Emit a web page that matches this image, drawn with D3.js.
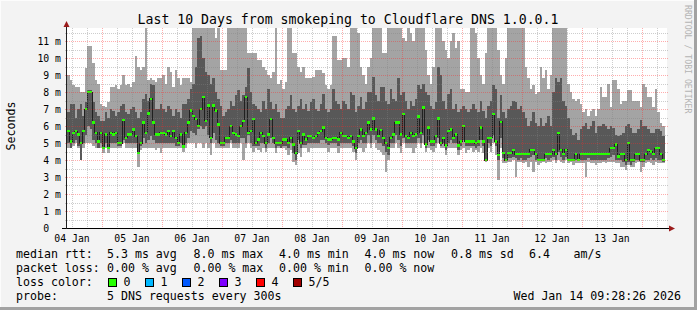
<!DOCTYPE html>
<html>
<head>
<meta charset="utf-8">
<script src="https://cdn.jsdelivr.net/npm/d3@7"></script>
<style>
  html, body { margin: 0; padding: 0; background: #f3f3f3; }
  svg { display: block; }
  text { font-family: "DejaVu Sans Mono", monospace; fill: #000; }
</style>
</head>
<body>
<div id="chart"></div>
<script>
// hourly consolidated pings (ms), one value per hour from 04 Jan 10:00
// sorted pings: min (p1), low (p2), median (p3), high (p4), max (p5)
var maxMs = [
  9.0, 8.7, 8.4, 8.3, 8.3, 8.0, 8.0, 9.4, 10.7, 10.7, 9.7, 8.7, 8.5, 7.3,
  7.2, 7.1, 7.4, 8.3, 8.3, 8.4, 8.2, 8.4, 9.0, 8.4, 8.5, 8.3, 8.6, 10.1, 9.5, 9.3, 9.5, 12.5, 8.7, 8.8, 8.7, 8.6, 8.8, 8.8,
  9.0, 8.5, 9.5, 9.2, 8.3, 9.3, 8.8, 8.4, 8.8, 8.8, 8.8, 8.6, 12, 12, 12, 12, 12, 12, 12, 12, 12, 11.2, 12, 9.3,
  9.3, 9.3, 12, 12, 12, 12, 12, 12, 12, 12, 10.3, 10.3, 10.3, 10.3, 9.9, 9.9, 9.5, 9.3, 9.0, 8.8, 9.2, 12, 8.5, 8.7,
  8.2, 8.6, 12, 12, 10.3, 10.3, 9.5, 9.2, 9.5, 8.8, 8.8, 8.8, 8.9, 9.3, 9.3, 9.3, 9.1, 8.4, 8.2, 8.4, 11.3, 11.3, 9.9, 9.9,
  10.0, 10.0, 9.5, 12, 12, 12, 11.5, 9.5, 9.0, 8.5, 9.5, 10.0, 12, 12, 12, 12, 10.3, 10.3, 12, 12, 12, 12, 12, 12,
  11.2, 11.0, 12, 11.5, 11.0, 12, 12, 12, 12, 10.5, 9.0, 8.5, 9.5, 12, 12, 12, 11.0, 10.5, 10.0, 11.0, 11.5, 10.6, 11.0, 8.2,
  8.2, 8.0, 8.0, 12, 12, 11.5, 10.0, 9.0, 8.5, 10.3, 12, 12, 12, 12, 10.5, 9.0, 8.5, 10.0, 12, 12, 12, 12, 12, 12,
  12, 9.5, 8.8, 8.2, 8.4, 7.9, 8.0, 9.5, 8.8, 9.3, 8.2, 9.0, 12, 12, 12, 12, 12, 12, 8.5, 8.0, 7.6, 7.5, 7.6, 7.3,
  6.8, 7.0, 6.6, 6.9, 7.0, 6.6, 7.0, 8.3, 7.7, 7.7, 8.5, 7.1, 8.7, 8.7, 8.2, 7.3, 7.5, 7.5, 8.1, 8.1, 7.5, 7.5, 7.5, 7.1,
  8.5, 8.3, 7.7, 7.7, 7.1, 8.2, 6.8, 6.2, 6.0
];
var highMs = [
  6.8, 7.3, 7.3, 6.5, 7.0, 7.3, 6.6, 7.4, 8.1, 8.1, 7.4, 6.8, 6.6, 6.3,
  6.3, 6.8, 6.5, 7.0, 6.9, 6.6, 6.8, 7.2, 7.3, 6.8, 6.7, 7.0, 7.1, 6.8, 6.5, 6.8, 7.6, 7.9, 7.5, 8.5, 8.4, 7.0, 7.0, 7.3,
  7.0, 6.8, 7.2, 7.0, 6.6, 7.0, 6.8, 6.5, 7.3, 7.3, 7.6, 8.2, 8.5, 9.5, 11.2, 11.3, 10.0, 9.2, 9.0, 8.5, 8.8, 8.0, 7.6, 7.2,
  6.6, 6.8, 7.0, 7.5, 7.2, 7.8, 8.1, 7.5, 7.8, 8.3, 9.4, 8.0, 7.3, 7.2, 7.0, 6.8, 7.5, 7.0, 8.2, 7.4, 7.0, 7.3, 6.8, 6.5,
  6.5, 7.0, 7.2, 7.8, 7.0, 6.8, 7.2, 7.6, 7.0, 7.3, 6.9, 7.4, 7.6, 7.0, 6.9, 7.3, 7.9, 7.0, 6.8, 7.0, 8.2, 7.5, 7.3, 7.0,
  7.5, 7.3, 7.0, 8.0, 7.8, 6.8, 7.2, 7.7, 7.0, 7.4, 8.0, 8.0, 8.9, 7.8, 7.5, 8.3, 8.3, 7.5, 7.3, 8.2, 7.6, 7.5, 8.8, 7.8,
  8.0, 7.5, 7.0, 7.5, 7.2, 7.6, 8.4, 8.2, 8.5, 8.0, 7.8, 7.2, 7.0, 7.4, 9.5, 9.0, 7.5, 7.0, 7.9, 8.2, 7.0, 7.3, 6.8, 7.0,
  7.2, 7.0, 6.8, 7.0, 7.3, 7.0, 6.8, 7.5, 6.9, 6.5, 7.2, 7.5, 8.4, 8.2, 6.5, 7.8, 6.8, 6.5, 7.0, 7.2, 7.5, 7.4, 7.0, 7.2,
  6.8, 6.5, 6.0, 6.3, 6.8, 6.2, 6.0, 6.5, 6.0, 6.2, 6.6, 6.0, 8.0, 8.8, 8.6, 8.8, 7.5, 7.2, 6.5, 5.8, 5.5, 5.6, 5.2, 5.8,
  6.0, 6.2, 5.8, 6.0, 6.3, 5.6, 6.0, 6.0, 6.1, 6.0, 5.8, 6.0, 5.9, 5.5, 5.4, 5.5, 5.6, 6.0, 6.1, 5.9, 5.6, 5.6, 5.8, 6.35,
  6.0, 6.0, 5.8, 5.6, 5.6, 5.8, 5.8, 5.7, 5.4
];
var medMs = [
  5.7, 5.1, 5.6, 5.7, 5.5, 5.0, 5.7, 7.0, 8.0, 8.0, 6.2, 5.6, 5.1, 5.6,
  4.7, 5.5, 4.7, 5.6, 5.5, 5.6, 5.0, 5.0, 6.35, 5.3, 5.5, 5.5, 5.8, 5.4, 4.4, 5.0, 6.2, 5.6, 6.75, 7.6, 6.2, 5.5, 5.5, 5.6,
  5.6, 5.5, 5.7, 5.4, 5.7, 5.3, 5.0, 5.5, 4.8, 5.6, 6.2, 6.9, 6.6, 6.4, 6.0, 7.0, 7.7, 6.3, 7.2, 5.3, 7.2, 6.9, 6.1, 5.0,
  5.0, 5.3, 5.3, 6.0, 5.6, 5.5, 5.4, 6.0, 6.3, 7.7, 5.6, 5.7, 6.4, 5.0, 5.2, 5.6, 5.4, 5.0, 5.5, 6.4, 5.3, 5.0, 5.0, 5.0,
  5.2, 5.2, 5.0, 5.3, 4.9, 4.4, 5.7, 5.0, 5.5, 5.2, 5.4, 5.4, 5.3, 5.4, 5.6, 5.7, 5.9, 5.3, 5.2, 5.2, 5.3, 5.3, 5.2, 5.6,
  5.4, 5.4, 5.3, 5.4, 5.1, 4.7, 5.4, 5.8, 5.4, 5.6, 6.2, 5.8, 6.45, 5.8, 5.4, 5.76, 5.3, 5.0, 4.7, 5.3, 5.5, 6.2, 6.2, 5.5,
  6.7, 5.4, 5.3, 5.6, 5.4, 5.5, 6.55, 5.6, 7.1, 4.9, 5.9, 5.1, 5.1, 5.4, 6.45, 5.0, 5.3, 4.85, 5.7, 5.8, 5.3, 5.5, 4.85, 5.1,
  6.0, 5.1, 5.1, 5.1, 5.1, 5.0, 5.1, 5.9, 5.1, 4.0, 5.3, 5.3, 6.7, 5.1, 4.3, 6.25, 4.4, 4.0, 4.4, 4.4, 4.6, 4.35, 4.35, 4.35,
  4.35, 4.35, 4.35, 4.6, 4.6, 4.35, 4.0, 4.0, 4.0, 4.35, 4.35, 4.35, 4.6, 4.35, 5.6, 4.6, 4.35, 4.6, 4.0, 4.0, 4.0, 4.35, 4.0, 4.35,
  4.35, 4.35, 4.35, 4.35, 4.35, 4.35, 4.35, 4.35, 4.35, 4.35, 4.35, 4.7, 4.7, 4.9, 4.2, 4.35, 4.35, 4.0, 5.0, 4.0, 4.0, 4.35, 4.35, 4.0,
  4.0, 4.35, 4.6, 4.5, 4.35, 4.7, 4.7, 4.35, 4.0
];
var lowMs = [
  5.0, 4.7, 5.0, 5.2, 4.8, 4.0, 5.0, 5.5, 6.0, 5.8, 5.2, 5.0, 4.7, 5.0,
  4.7, 5.0, 4.7, 5.0, 5.0, 5.0, 4.8, 4.8, 5.2, 5.0, 5.0, 5.0, 5.0, 5.0, 4.4, 4.8, 5.3, 5.0, 5.2, 5.4, 5.2, 5.0, 5.0, 5.0,
  5.0, 5.0, 5.0, 5.0, 5.0, 4.8, 4.8, 5.0, 4.7, 5.0, 5.3, 5.7, 5.6, 5.5, 5.8, 6.0, 5.8, 6.0, 5.5, 5.0, 5.6, 5.2, 5.0, 4.8,
  4.8, 5.0, 5.0, 5.2, 5.0, 5.0, 5.0, 5.3, 5.3, 5.0, 5.5, 5.0, 4.8, 4.8, 4.8, 5.0, 5.0, 4.7, 5.0, 5.3, 5.0, 4.7, 4.8, 4.7,
  4.8, 4.8, 4.7, 5.0, 4.4, 4.0, 5.2, 4.7, 4.9, 4.9, 5.0, 5.0, 5.0, 5.0, 5.0, 5.2, 5.2, 5.0, 4.9, 5.0, 5.0, 5.0, 4.8, 5.0,
  5.0, 5.0, 5.0, 5.0, 4.8, 4.4, 5.0, 5.2, 5.0, 5.0, 5.5, 5.0, 5.5, 5.2, 5.0, 5.0, 4.8, 4.5, 4.3, 5.0, 5.0, 5.5, 5.2, 4.8,
  5.3, 5.0, 5.0, 5.0, 5.0, 5.0, 5.3, 5.0, 5.5, 4.7, 5.2, 4.8, 4.8, 5.0, 5.3, 4.8, 5.0, 4.6, 5.0, 5.2, 5.0, 5.0, 4.6, 4.8,
  5.2, 4.8, 4.8, 4.8, 4.8, 4.7, 4.8, 5.2, 4.8, 4.0, 5.0, 4.8, 5.5, 4.8, 4.0, 5.3, 4.1, 4.0, 4.1, 4.1, 4.2, 4.1, 4.0, 4.1,
  4.0, 4.0, 4.1, 4.2, 4.3, 4.0, 4.0, 4.0, 4.0, 4.1, 4.0, 4.1, 4.2, 4.0, 4.5, 4.2, 4.0, 4.2, 4.0, 4.0, 4.0, 4.0, 4.0, 4.0,
  4.0, 4.0, 4.1, 4.0, 4.0, 4.0, 4.0, 4.0, 4.0, 4.0, 4.1, 4.2, 4.3, 4.0, 4.0, 4.0, 3.9, 3.7, 3.9, 3.7, 3.9, 4.0, 4.0, 3.9,
  3.9, 4.0, 4.0, 4.1, 4.0, 4.1, 4.0, 4.0, 3.9
];
var minMs = [
  4.7, 4.7, 4.8, 5.0, 4.7, 4.0, 4.7, 5.0, 5.0, 5.0, 4.8, 4.7, 4.7, 4.7,
  4.4, 4.7, 4.4, 4.7, 4.7, 4.7, 4.7, 4.7, 5.0, 4.7, 4.7, 4.7, 4.7, 4.7, 3.6, 4.6, 4.7, 4.7, 4.7, 4.7, 4.7, 4.6, 4.7, 4.4,
  4.7, 4.7, 4.7, 4.7, 4.7, 4.7, 4.7, 4.7, 4.5, 4.7, 5.0, 5.0, 5.0, 4.7, 5.0, 5.0, 4.7, 5.0, 4.7, 4.3, 5.0, 4.7, 4.7, 4.7,
  4.7, 4.7, 4.7, 5.0, 4.7, 4.7, 4.7, 5.0, 4.0, 4.7, 5.0, 4.7, 4.5, 4.7, 4.6, 4.5, 4.7, 4.5, 4.7, 4.7, 4.7, 4.4, 4.7, 4.7,
  4.7, 4.6, 4.3, 4.6, 3.9, 3.7, 4.4, 4.2, 4.7, 4.7, 4.5, 4.7, 4.7, 4.7, 4.7, 4.7, 4.7, 4.7, 4.5, 4.7, 4.7, 4.7, 4.4, 4.7,
  4.7, 4.7, 4.7, 4.7, 4.5, 4.0, 4.7, 4.7, 4.5, 4.7, 5.0, 4.7, 5.0, 4.7, 4.6, 4.5, 4.3, 3.3, 4.0, 4.7, 4.7, 5.0, 4.7, 4.4,
  5.0, 4.7, 4.7, 4.7, 4.4, 4.7, 5.0, 4.7, 5.0, 4.5, 4.7, 4.6, 4.5, 4.7, 5.0, 4.7, 4.7, 4.3, 4.7, 4.7, 4.7, 4.7, 4.3, 4.6,
  4.7, 4.4, 4.6, 4.7, 4.5, 4.6, 4.5, 4.7, 4.4, 3.9, 4.7, 4.5, 5.0, 4.3, 2.8, 4.7, 3.8, 3.8, 3.9, 3.9, 4.0, 3.0, 3.9, 3.9,
  3.8, 3.9, 3.6, 3.9, 3.3, 3.9, 3.7, 3.8, 3.9, 3.8, 3.9, 3.9, 4.0, 3.8, 4.0, 3.9, 3.8, 4.0, 3.8, 3.9, 3.7, 3.8, 3.8, 3.8,
  3.8, 3.0, 3.9, 3.8, 3.8, 3.7, 3.8, 3.8, 3.9, 3.8, 3.9, 3.9, 3.9, 3.8, 3.8, 3.6, 3.6, 3.4, 3.7, 3.6, 3.6, 3.8, 3.9, 3.3,
  3.6, 3.8, 3.9, 3.8, 3.7, 3.9, 3.8, 3.8, 3.8
];

// legend figures
var statNames = ["avg", "max", "min", "now"];
var rttStats = [5.3, 8.0, 4.0, 4.0];
var rttSd = 0.8, rttAmps = 6.4;
var lossStats = [0, 0, 0, 0];
var lossLabels = ["0", "1", "2", "3", "4", "5/5"];
var lossColors = ["#26ff00", "#00b8ff", "#0059ff", "#7e00ff", "#ff0000", "#a10000"];

var width = 697, height = 310,
  plot = {left: 67, right: 667, top: 28, bottom: 228},
  topMs = 200 / 17,
  startTime = Date.UTC(2026, 0, 4, 10),
  stepMs = 3600 * 1000,
  nSteps = 240;

var x = d3.scaleUtc()
  .domain([new Date(startTime), new Date(startTime + nSteps * stepMs)])
  .range([plot.left, plot.right]);
var y = d3.scaleLinear().domain([0, topMs]).range([plot.bottom, plot.top]);

var rows = medMs.map(function(m, i) {
  return {t: new Date(startTime + i * stepMs), min: minMs[i], low: lowMs[i], med: m, high: highMs[i], max: maxMs[i]};
});
// one extra point so the last step gets its width
var stepRows = rows.concat([Object.assign({}, rows[rows.length - 1], {t: new Date(startTime + rows.length * stepMs)})]);

var svg = d3.select("#chart").append("svg")
  .attr("width", width).attr("height", height);

// frame
svg.append("rect").attr("width", width).attr("height", height).attr("fill", "#f3f3f3");
svg.append("rect").attr("x", 0).attr("y", 0).attr("width", width).attr("height", 1).attr("fill", "#fcfcfc");
svg.append("rect").attr("x", 0).attr("y", 0).attr("width", 1).attr("height", height).attr("fill", "#fcfcfc");
svg.append("rect").attr("x", width - 3).attr("y", 0).attr("width", 3).attr("height", height).attr("fill", "#a2a2a2");
svg.append("rect").attr("x", 0).attr("y", height - 3).attr("width", width).attr("height", 3).attr("fill", "#a2a2a2");

svg.append("rect")
  .attr("x", plot.left).attr("y", plot.top)
  .attr("width", plot.right - plot.left).attr("height", plot.bottom - plot.top)
  .attr("fill", "#fff");

svg.append("clipPath").attr("id", "clip")
  .append("rect")
  .attr("x", plot.left).attr("y", plot.top)
  .attr("width", plot.right - plot.left).attr("height", plot.bottom - plot.top);

var g = svg.append("g").attr("clip-path", "url(#clip)");

function band(lo, hi) {
  return d3.area().curve(d3.curveStepAfter)
    .x(function(d) { return x(d.t); })
    .y0(function(d) { return y(d[lo]); })
    .y1(function(d) { return y(d[hi]); });
}

// smoke: outer pings light, inner pings dark
g.append("path").datum(stepRows).attr("d", band("min", "max"))
  .attr("fill", "#a4a4a4").attr("shape-rendering", "crispEdges");
g.append("path").datum(stepRows).attr("d", band("low", "high"))
  .attr("fill", "#585858").attr("shape-rendering", "crispEdges");

// median
g.append("path").datum(stepRows)
  .attr("d", d3.line().curve(d3.curveStepAfter)
    .x(function(d) { return x(d.t); })
    .y(function(d) { return y(d.med); }))
  .attr("fill", "none").attr("stroke", "#202020").attr("stroke-width", 1)
  .attr("shape-rendering", "crispEdges");

g.selectAll("rect.med").data(rows).enter().append("rect")
  .attr("class", "med")
  .attr("x", function(d) { return x(d.t); })
  .attr("width", function(d) { return x(new Date(+d.t + stepMs)) - x(d.t); })
  .attr("y", function(d) { return y(d.med) - 1.25; })
  .attr("height", 2.5)
  .attr("fill", lossColors[0])
  .attr("shape-rendering", "crispEdges");

// grid, drawn over the smoke like rrdtool does
var grid = svg.append("g").attr("shape-rendering", "crispEdges").attr("stroke-dasharray", "1,1");
var minorY = d3.range(1, Math.floor(topMs * 2) + 1).map(function(d) { return d / 2; })
  .filter(function(v) { return v % 1 !== 0; });
var majorY = d3.range(1, Math.floor(topMs) + 1);

grid.selectAll("line.hmin").data(minorY).enter().append("line")
  .attr("x1", plot.left - 2).attr("x2", plot.right + 2)
  .attr("y1", function(d) { return Math.round(y(d)) + 0.5; })
  .attr("y2", function(d) { return Math.round(y(d)) + 0.5; })
  .attr("stroke", "rgba(130,130,130,0.4)");
grid.selectAll("line.hmaj").data(majorY).enter().append("line")
  .attr("x1", plot.left - 2).attr("x2", plot.right + 2)
  .attr("y1", function(d) { return Math.round(y(d)) + 0.5; })
  .attr("y2", function(d) { return Math.round(y(d)) + 0.5; })
  .attr("stroke", "rgba(255,40,40,0.38)");

var tEnd = new Date(startTime + nSteps * stepMs);
var majorX = d3.utcDay.range(new Date(startTime), tEnd);
var minorX = d3.utcHour.every(6).range(new Date(startTime), tEnd)
  .filter(function(d) { return d.getUTCHours() !== 0; });

grid.selectAll("line.vmin").data(minorX).enter().append("line")
  .attr("x1", function(d) { return Math.round(x(d)) + 0.5; })
  .attr("x2", function(d) { return Math.round(x(d)) + 0.5; })
  .attr("y1", plot.top).attr("y2", plot.bottom + 2)
  .attr("stroke", "rgba(130,130,130,0.4)");
grid.selectAll("line.vmaj").data(majorX).enter().append("line")
  .attr("x1", function(d) { return Math.round(x(d)) + 0.5; })
  .attr("x2", function(d) { return Math.round(x(d)) + 0.5; })
  .attr("y1", plot.top).attr("y2", plot.bottom + 2)
  .attr("stroke", "rgba(255,40,40,0.38)");

// axes
svg.append("line").attr("x1", plot.left - 5).attr("x2", plot.right + 3)
  .attr("y1", plot.bottom + 0.5).attr("y2", plot.bottom + 0.5)
  .attr("stroke", "#000").attr("shape-rendering", "crispEdges");
svg.append("line").attr("x1", plot.left - 0.5).attr("x2", plot.left - 0.5)
  .attr("y1", plot.top - 4).attr("y2", plot.bottom + 1)
  .attr("stroke", "#202020").attr("shape-rendering", "crispEdges");
svg.append("path").attr("d", "M63.5,27L69.5,27L66.5,21Z").attr("fill", "#9b1b1b");
svg.append("path").attr("d", "M669,225.5L669,231.5L675,228.5Z").attr("fill", "#9b1b1b");

// y labels
var tickFont = 9.8, charW = tickFont * 0.602;
svg.selectAll("text.ylab").data(d3.range(0, Math.floor(topMs) + 1)).enter().append("text")
  .attr("class", "ylab")
  .attr("x", function(d) { return d === 0 ? 61 - 2 * charW : 61; })
  .attr("y", function(d) { return y(d) + 3.6; })
  .attr("text-anchor", "end")
  .style("font-size", tickFont + "px")
  .text(function(d) { return d === 0 ? "0" : d + " m"; });

// x labels at midday
var dayFmt = d3.utcFormat("%d %b");
var labelDays = majorX.map(function(d) { return d3.utcDay.offset(d, -1); })
  .concat([majorX[majorX.length - 1]])
  .map(function(d) { return new Date(+d + 12 * 3600 * 1000); })
  .filter(function(d) { return x(d) > plot.left && x(d) < plot.right; });
svg.selectAll("text.xlab").data(labelDays).enter().append("text")
  .attr("x", function(d) { return x(d); })
  .attr("y", 242)
  .attr("text-anchor", "middle")
  .style("font-size", tickFont + "px")
  .text(function(d) { return dayFmt(d); });

// titles
svg.append("text").attr("x", 348).attr("y", 24).attr("text-anchor", "middle")
  .style("font-size", "13.2px")
  .text("Last 10 Days from smokeping to Cloudflare DNS 1.0.0.1");
svg.append("text").attr("transform", "translate(15,126) rotate(-90)")
  .attr("text-anchor", "middle").style("font-size", "11.6px").text("Seconds");
svg.append("text").attr("transform", "translate(685,5) rotate(90)")
  .style("font-size", "8.2px").style("fill", "#b4b4b4")
  .text("RRDTOOL / TOBI OETIKER");

// legend
var leg = svg.append("g").style("font-size", "11.6px").attr("xml:space", "preserve");
var colX = [107, 193.5, 279, 364.5];
var rowY = [258.3, 272.2, 286, 300];

leg.append("text").attr("x", 16).attr("y", rowY[0]).text("median rtt:");
rttStats.forEach(function(v, i) {
  leg.append("text").attr("x", colX[i]).attr("y", rowY[0]).text(v.toFixed(1) + " ms " + statNames[i]);
});
leg.append("text").attr("x", 451).attr("y", rowY[0]).text(rttSd.toFixed(1) + " ms sd");
leg.append("text").attr("x", 529).attr("y", rowY[0]).text(rttAmps.toFixed(1));
leg.append("text").attr("x", 573.5).attr("y", rowY[0]).text("am/s");

leg.append("text").attr("x", 16).attr("y", rowY[1]).text("packet loss:");
lossStats.forEach(function(v, i) {
  leg.append("text").attr("x", colX[i]).attr("y", rowY[1]).text(v.toFixed(2) + " % " + statNames[i]);
});

leg.append("text").attr("x", 16).attr("y", rowY[2]).text("loss color:");
lossLabels.forEach(function(l, i) {
  var bx = 108.5 + i * 37;
  leg.append("rect").attr("x", bx).attr("y", 278.5).attr("width", 8).attr("height", 8)
    .attr("fill", lossColors[i]).attr("stroke", "#000").attr("stroke-width", 1)
    .attr("shape-rendering", "crispEdges");
  leg.append("text").attr("x", bx + 15).attr("y", rowY[2]).text(l);
});

leg.append("text").attr("x", 16).attr("y", rowY[3]).text("probe:");
leg.append("text").attr("x", 107).attr("y", rowY[3]).text("5 DNS requests every 300s");
leg.append("text").attr("x", 681).attr("y", rowY[3]).attr("text-anchor", "end")
  .text("Wed Jan 14 09:28:26 2026");
</script>
</body>
</html>
